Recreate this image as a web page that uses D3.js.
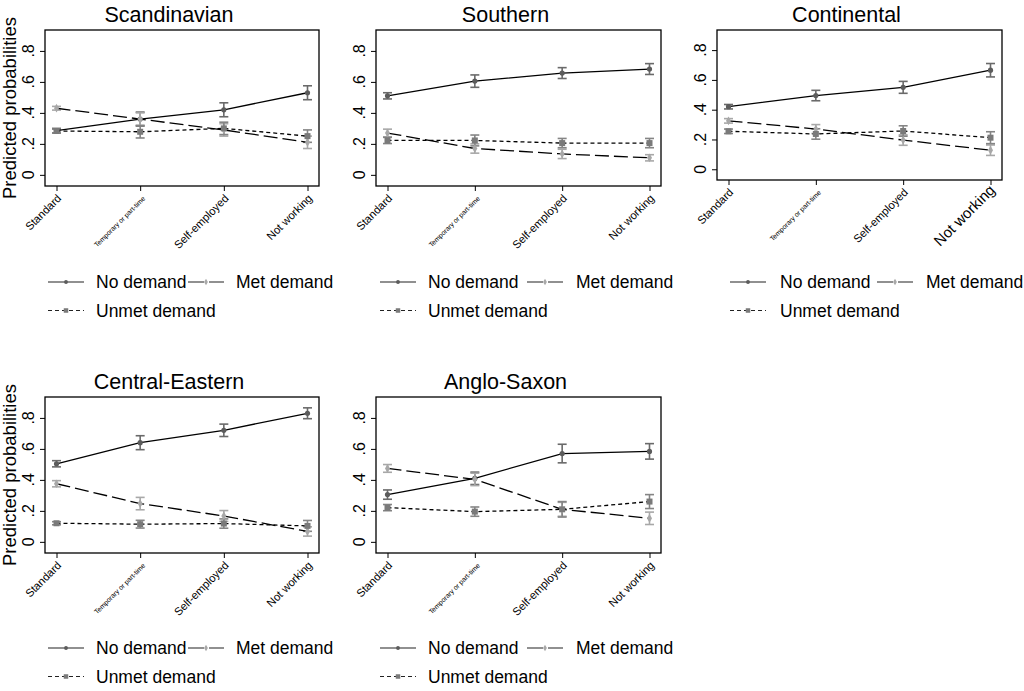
<!DOCTYPE html>
<html>
<head>
<meta charset="utf-8">
<script src="https://cdn.jsdelivr.net/npm/d3@7"></script>
<style>
  body { margin: 0; background: #fff; }
  svg { display: block; font-family: "Liberation Sans", Arial, sans-serif; }
</style>
</head>
<body>
<svg id="chart" width="1024" height="691"></svg>
<script>
// categories on the x axis
var categories = ['Standard', 'Temporary or part-time', 'Self-employed', 'Not working']
var regions = ['Scandinavian', 'Southern', 'Continental', 'Central-Eastern', 'Anglo-Saxon']
var yTicks = [0, 0.2, 0.4, 0.6, 0.8]
var yTickLabels = ['0', '.2', '.4', '.6', '.8']
var seriesNames = ['No demand', 'Met demand', 'Unmet demand']

// predicted probabilities, one row per region
var noDemand = [
  [0.285, 0.36, 0.42, 0.53],
  [0.51, 0.605, 0.657, 0.683],
  [0.42, 0.495, 0.55, 0.665],
  [0.504, 0.64, 0.72, 0.83],
  [0.305, 0.41, 0.57, 0.584]
]
var noDemandCI = [
  [0.015, 0.045, 0.045, 0.045],
  [0.02, 0.04, 0.035, 0.035],
  [0.015, 0.035, 0.04, 0.045],
  [0.02, 0.045, 0.04, 0.035],
  [0.03, 0.04, 0.06, 0.05]
]
var metDemand = [
  [0.43, 0.36, 0.29, 0.21],
  [0.27, 0.17, 0.135, 0.11],
  [0.325, 0.27, 0.196, 0.128],
  [0.375, 0.247, 0.167, 0.067],
  [0.474, 0.403, 0.21, 0.152]
]
var metDemandCI = [
  [0.012, 0.04, 0.04, 0.04],
  [0.025, 0.03, 0.03, 0.02],
  [0.015, 0.03, 0.035, 0.035],
  [0.02, 0.04, 0.035, 0.03],
  [0.025, 0.04, 0.045, 0.04]
]
var unmetDemand = [
  [0.283, 0.278, 0.3, 0.25],
  [0.222, 0.222, 0.205, 0.205],
  [0.255, 0.237, 0.257, 0.212],
  [0.12, 0.114, 0.118, 0.103],
  [0.221, 0.195, 0.21, 0.26]
]
var unmetDemandCI = [
  [0.012, 0.04, 0.04, 0.04],
  [0.02, 0.035, 0.03, 0.03],
  [0.015, 0.035, 0.035, 0.04],
  [0.01, 0.025, 0.03, 0.035],
  [0.02, 0.03, 0.05, 0.045]
]

// panel boxes (layout only)
var panels = [
  { left: 45, right: 319, top: 30, bottom: 186, legendY: 282, legend: [3, 51, 143, 191], yTitle: true, bigLast: false },
  { left: 376, right: 661, top: 30, bottom: 186, legendY: 282, legend: [4, 52, 151, 200], yTitle: false, bigLast: false },
  { left: 717, right: 1002, top: 30, bottom: 180, legendY: 282, legend: [13, 63, 160, 209], yTitle: false, bigLast: true },
  { left: 45, right: 319, top: 397, bottom: 553, legendY: 648, legend: [3, 51, 143, 191], yTitle: true, bigLast: false },
  { left: 376, right: 661, top: 397, bottom: 553, legendY: 648, legend: [4, 52, 151, 200], yTitle: false, bigLast: false }
]

var styles = [
  { dash: null, keyDash: null, marker: 'circle', fill: '#5c5c5c', bar: '#6a6a6a' },
  { dash: '14,5', keyDash: '16,5', marker: 'diamond', fill: '#a8a8a8', bar: '#a8a8a8' },
  { dash: '4,3', keyDash: '4,3', marker: 'square', fill: '#7a7a7a', bar: '#858585' }
]

var font = '"Liberation Sans", Arial, sans-serif'
var svg = d3.select('#chart')

function drawMarker(g, type, x, y, fill, small) {
  var f = small ? 0.75 : 1
  if (type === 'square') {
    g.append('rect').attr('x', x - 3 * f).attr('y', y - 3 * f).attr('width', 6 * f).attr('height', 6 * f).attr('fill', fill)
  } else if (type === 'diamond') {
    g.append('path').attr('d', d3.symbol(d3.symbolDiamond, 22 * f * f)()).attr('transform', 'translate(' + x + ',' + y + ')').attr('fill', fill)
  } else {
    g.append('circle').attr('cx', x).attr('cy', y).attr('r', 2.6 * f).attr('fill', fill)
  }
}

regions.forEach(function (name, i) {
  var p = panels[i]
  var g = svg.append('g')

  var x = d3.scalePoint().domain(categories).range([p.left + 11.5, p.right - 11.5])
  var y = d3.scaleLinear().domain([-0.072, 0.935]).range([p.bottom, p.top])

  var series = [
    { vals: noDemand[i], ci: noDemandCI[i] },
    { vals: metDemand[i], ci: metDemandCI[i] },
    { vals: unmetDemand[i], ci: unmetDemandCI[i] }
  ]

  // y axis ticks, labels drawn by hand rotated like stata
  var yAxis = g.append('g').attr('transform', 'translate(' + p.left + ',0)')
    .call(d3.axisLeft(y).tickValues(yTicks).tickSize(5).tickFormat(''))
  yAxis.select('.domain').remove()
  yAxis.selectAll('line').attr('stroke', 'black')

  g.selectAll('text.ylab').data(yTicks).enter().append('text')
    .attr('class', 'ylab')
    .attr('transform', function (d) { return 'translate(' + (p.left - 11) + ',' + y(d) + ') rotate(-90)' })
    .attr('text-anchor', 'middle')
    .style('font-size', '16px')
    .style('font-family', font)
    .text(function (d, k) { return yTickLabels[k] })

  // x axis
  var xAxis = g.append('g').attr('transform', 'translate(0,' + p.bottom + ')')
    .call(d3.axisBottom(x).tickSize(5))
  xAxis.select('.domain').remove()
  xAxis.selectAll('line').attr('stroke', 'black')
  xAxis.selectAll('text')
    .attr('y', null).attr('dy', null)
    .attr('text-anchor', 'end')
    .attr('transform', function (d, k) { return (k === 3 && p.bigLast) ? 'translate(5,11) rotate(-45)' : 'translate(5,13) rotate(-45)' })
    .style('font-family', font)
    .attr('fill', 'black')
    .style('font-size', function (d, k) {
      if (k === 1) return '6.8px'
      if (k === 3 && p.bigLast) return '15px'
      return '11.2px'
    })

  // plot border
  g.append('rect')
    .attr('x', p.left).attr('y', p.top)
    .attr('width', p.right - p.left).attr('height', p.bottom - p.top)
    .attr('fill', 'none').attr('stroke', 'black').attr('stroke-width', 1.3)

  // error bars
  series.forEach(function (s, si) {
    var st = styles[si]
    s.vals.forEach(function (v, k) {
      var cx = x(categories[k])
      var lo = y(v - s.ci[k]), hi = y(v + s.ci[k])
      g.append('line').attr('x1', cx).attr('x2', cx).attr('y1', lo).attr('y2', hi)
        .attr('stroke', st.bar).attr('stroke-width', 1.6)
      g.append('line').attr('x1', cx - 4.5).attr('x2', cx + 4.5).attr('y1', lo).attr('y2', lo)
        .attr('stroke', st.bar).attr('stroke-width', 1.6)
      g.append('line').attr('x1', cx - 4.5).attr('x2', cx + 4.5).attr('y1', hi).attr('y2', hi)
        .attr('stroke', st.bar).attr('stroke-width', 1.6)
    })
  })

  // lines
  var line = d3.line()
    .x(function (d, k) { return x(categories[k]) })
    .y(function (d) { return y(d) })
  series.forEach(function (s, si) {
    g.append('path').datum(s.vals)
      .attr('d', line)
      .attr('fill', 'none')
      .attr('stroke', 'black')
      .attr('stroke-width', 1.3)
      .attr('stroke-dasharray', styles[si].dash)
  })

  // markers
  series.forEach(function (s, si) {
    s.vals.forEach(function (v, k) {
      drawMarker(g, styles[si].marker, x(categories[k]), y(v), styles[si].fill)
    })
  })

  // title
  g.append('text')
    .attr('x', (p.left + p.right) / 2 - 13)
    .attr('y', p.top - 8)
    .attr('text-anchor', 'middle')
    .style('font-size', '21.5px')
    .text(name)

  if (p.yTitle) {
    g.append('text')
      .attr('transform', 'translate(16,' + ((p.top + p.bottom) / 2) + ') rotate(-90)')
      .attr('text-anchor', 'middle')
      .style('font-size', '18.5px')
      .text('Predicted probabilities')
  }

  // legend
  var keyW = 36
  var keys = [
    { x: p.left + p.legend[0], tx: p.left + p.legend[1], y: p.legendY, s: 0 },
    { x: p.left + p.legend[2], tx: p.left + p.legend[3], y: p.legendY, s: 1 },
    { x: p.left + p.legend[0], tx: p.left + p.legend[1], y: p.legendY + 28.5, s: 2 }
  ]
  keys.forEach(function (kd) {
    var st = styles[kd.s]
    g.append('line')
      .attr('x1', kd.x).attr('x2', kd.x + keyW)
      .attr('y1', kd.y).attr('y2', kd.y)
      .attr('stroke', '#222').attr('stroke-width', 1.2)
      .attr('stroke-dasharray', st.keyDash)
    drawMarker(g, st.marker, kd.x + keyW / 2, kd.y, st.fill, true)
    g.append('text')
      .attr('x', kd.tx).attr('y', kd.y + 6)
      .style('font-size', '17.5px')
      .text(seriesNames[kd.s])
  })
})
</script>
</body>
</html>
